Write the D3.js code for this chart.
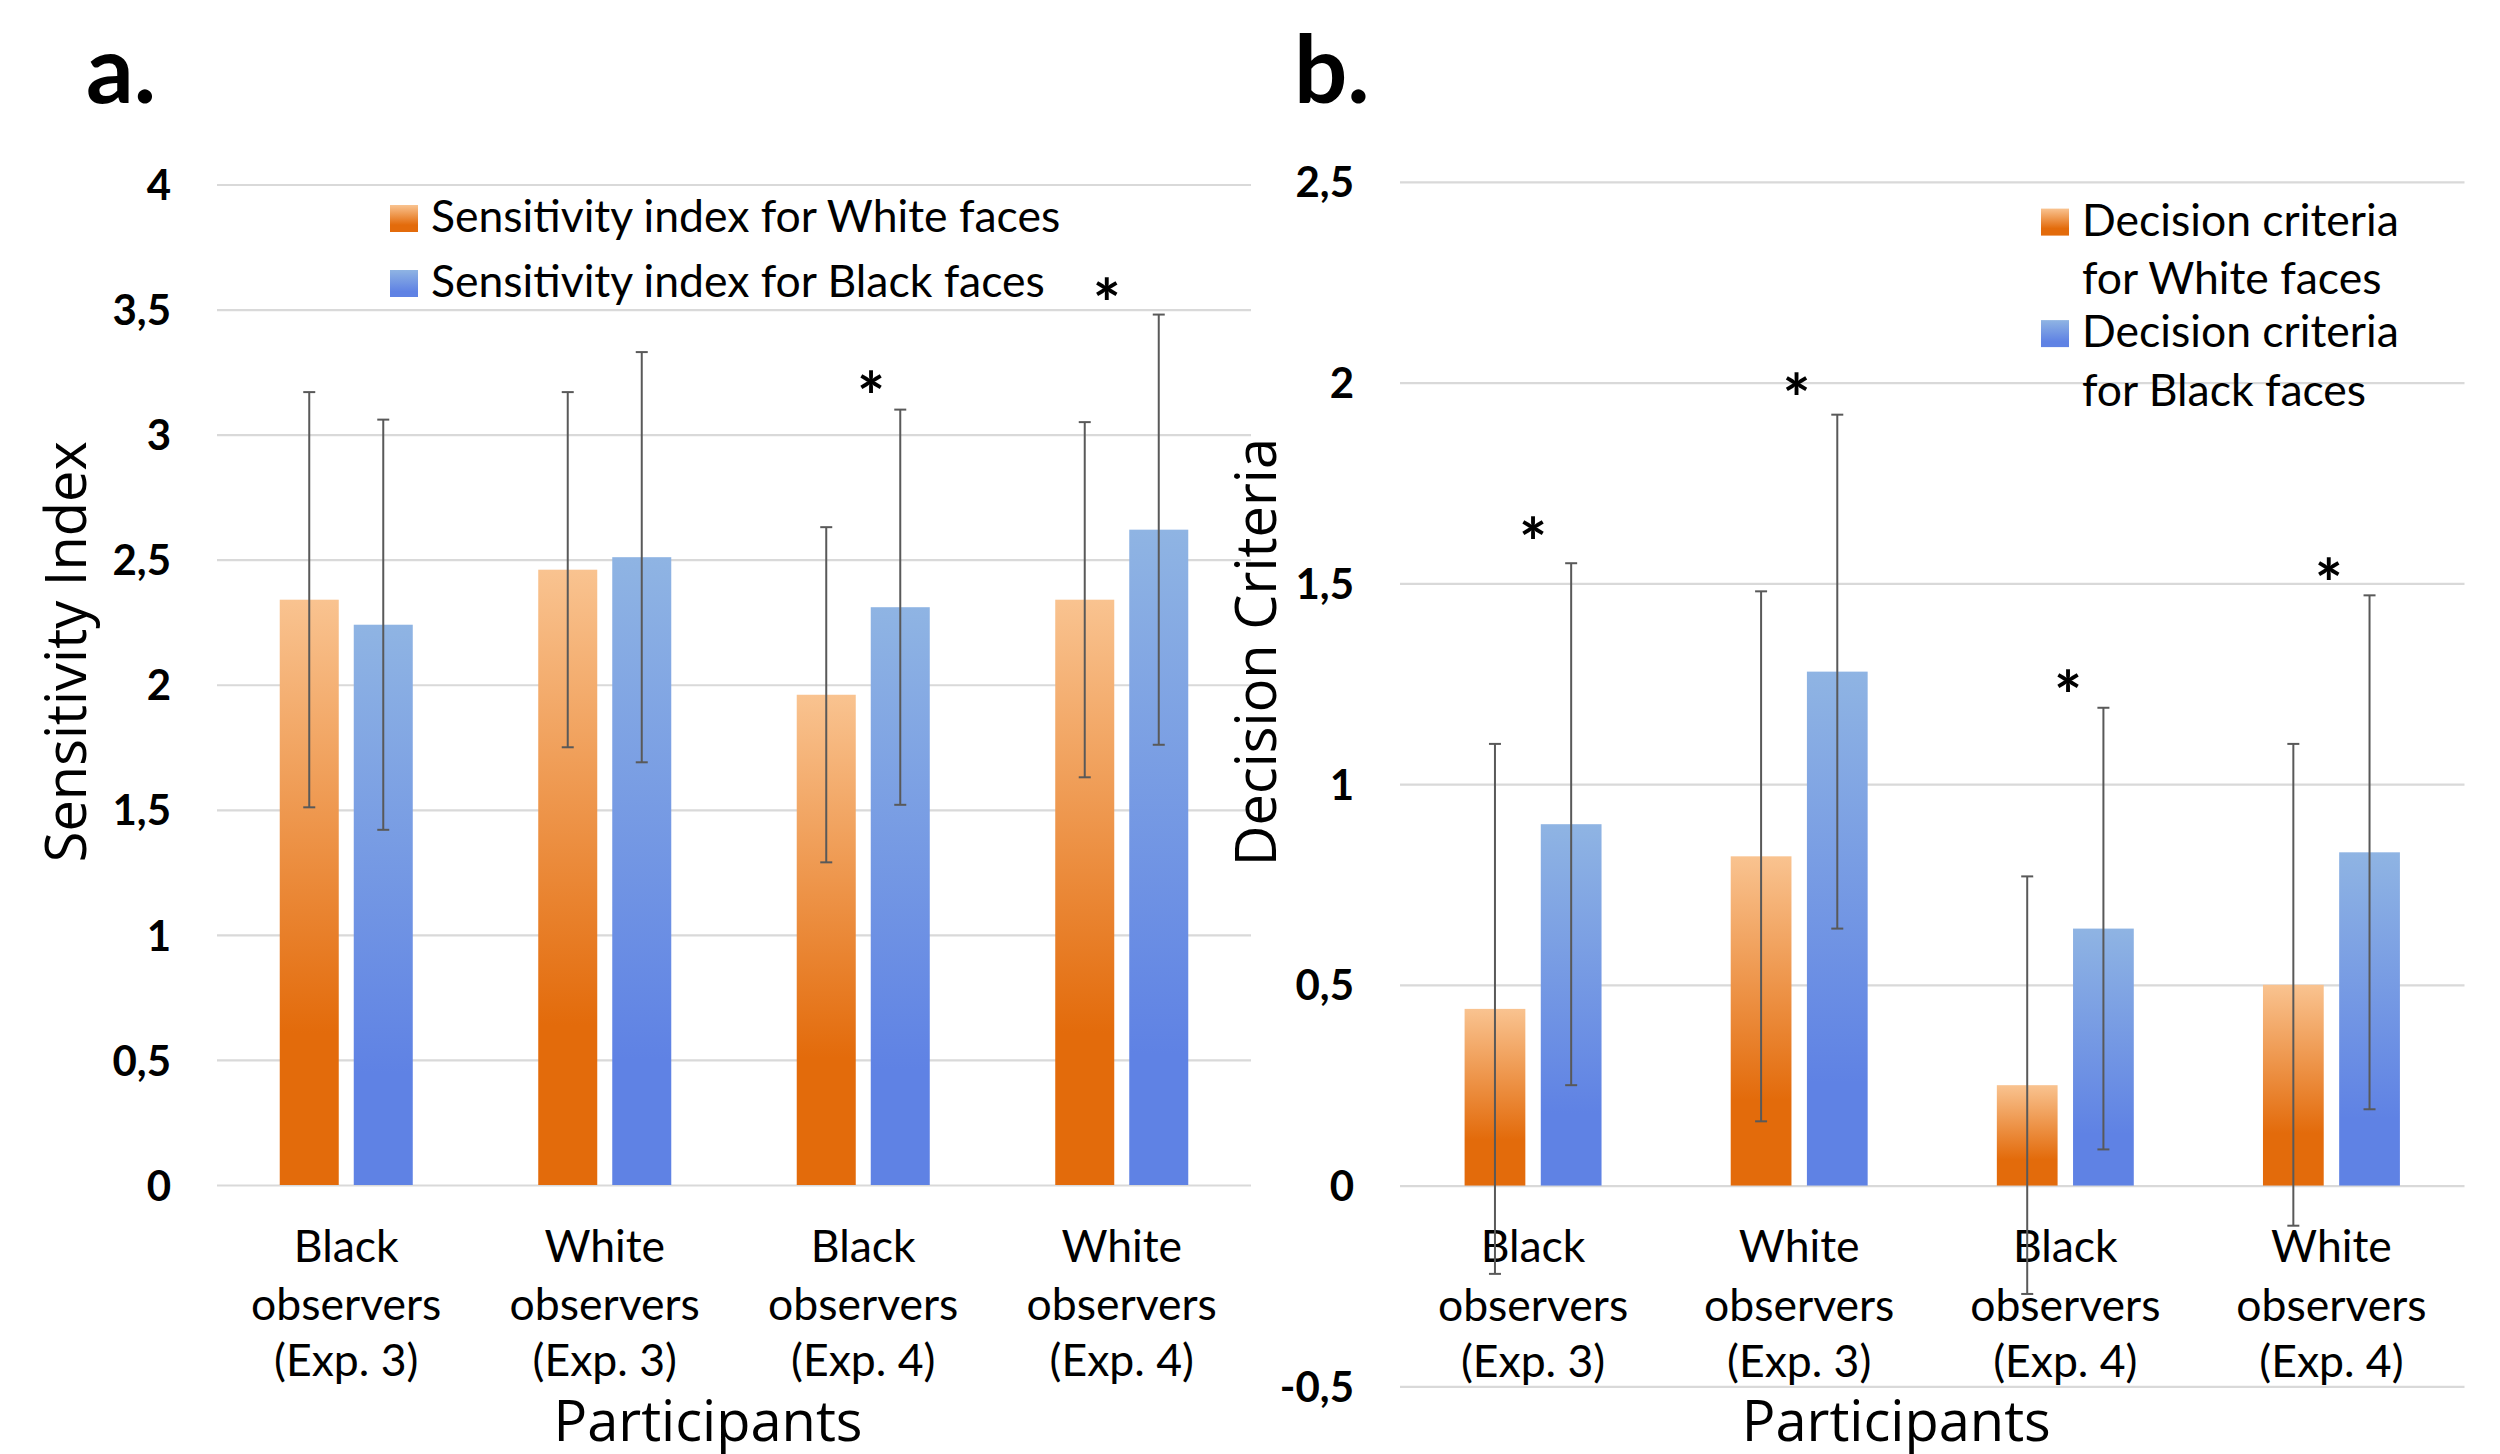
<!DOCTYPE html>
<html>
<head>
<meta charset="utf-8">
<script src="https://cdn.jsdelivr.net/npm/d3@7"></script>
<style>
  html, body { margin: 0; padding: 0; background: #fff; }
  svg { display: block; }
</style>
</head>
<body>
<svg id="chart" width="2500" height="1454"></svg>
<script>
// Categories (x axis, three lines each)
const categoryLines = [
    ["Black", "observers", "(Exp. 3)"],
    ["White", "observers", "(Exp. 3)"],
    ["Black", "observers", "(Exp. 4)"],
    ["White", "observers", "(Exp. 4)"]
];

// Panel a: sensitivity index
const sensSeries = ["Sensitivity index for White faces", "Sensitivity index for Black faces"];
const sensWhite = [2.34, 2.46, 1.96, 2.34];
const sensBlack = [2.24, 2.51, 2.31, 2.62];
const sensWhiteErr = [0.83, 0.71, 0.67, 0.71];
const sensBlackErr = [0.82, 0.82, 0.79, 0.86];
const sensTicks = [0, 0.5, 1, 1.5, 2, 2.5, 3, 3.5, 4];
// significance stars: category index, height (value), horizontal shift (share of band)
const sensStars = [
    { i: 2, v: 3.20, dx: 0.03 },
    { i: 3, v: 3.57, dx: -0.058 }
];

// Panel b: decision criteria
const critSeries = [["Decision criteria", "for White faces"], ["Decision criteria", "for Black faces"]];
const critWhite = [0.44, 0.82, 0.25, 0.50];
const critBlack = [0.90, 1.28, 0.64, 0.83];
const critWhiteErr = [0.66, 0.66, 0.52, 0.60];
const critBlackErr = [0.65, 0.64, 0.55, 0.64];
const critTicks = [-0.5, 0, 0.5, 1, 1.5, 2, 2.5];
const critStars = [
    { i: 0, v: 1.63, dx: 0 },
    { i: 1, v: 1.99, dx: -0.01 },
    { i: 2, v: 1.25, dx: 0.01 },
    { i: 3, v: 1.53, dx: -0.01 }
];

const svg = d3.select("#chart");
svg.append("rect").attr("width", 2500).attr("height", 1454).attr("fill", "#fff");

const calibri = "Lato, 'Liberation Sans', sans-serif";
const segoe = "'Open Sans', 'Noto Sans', sans-serif";

// Gradients like the Excel fill
const defs = svg.append("defs");
function addGradient(id, light, dark, stop) {
    const gr = defs.append("linearGradient").attr("id", id)
        .attr("x1", 0).attr("y1", 0).attr("x2", 0).attr("y2", 1);
    gr.append("stop").attr("offset", 0).attr("stop-color", light);
    gr.append("stop").attr("offset", stop).attr("stop-color", dark);
    gr.append("stop").attr("offset", 1).attr("stop-color", dark);
}
addGradient("gradOrange", "#f9c390", "#e36b0b", 0.74);
addGradient("gradBlue", "#8fb4e3", "#5f82e4", 0.8);
const fills = ["url(#gradOrange)", "url(#gradBlue)"];

const locale = d3.formatLocale({ decimal: ",", thousands: ".", grouping: [3], currency: ["", ""], minus: "-" });
const fmt = locale.format("~f");

function drawPanel(opt) {
    const { left, right, top, bottom, domain, ticks, values, errors, stars } = opt;
    const g = svg.append("g");

    const x0 = d3.scaleBand().domain(d3.range(categoryLines.length)).range([left, right]).paddingInner(0);
    const half = x0.bandwidth() * 0.2573;
    const x1 = d3.scaleBand().domain([0, 1]).range([-half, half]).paddingInner(0.2027);
    const y = d3.scaleLinear().domain(domain).range([bottom, top]);

    // grid + tick labels
    const axis = g.append("g")
        .attr("transform", `translate(${left},0)`)
        .call(d3.axisLeft(y).tickValues(ticks).tickSize(-(right - left)).tickPadding(46).tickFormat(fmt));
    axis.select(".domain").remove();
    axis.selectAll(".tick line").attr("stroke", "#d9d9d9").attr("stroke-width", 2.2);
    axis.selectAll(".tick text")
        .attr("fill", "#000")
        .attr("dy", "0.36em")
        .style("font-family", calibri)
        .style("font-weight", "bold")
        .style("font-size", "42px");

    // bars
    const rows = [];
    values.forEach((vals, s) => vals.forEach((v, i) => rows.push({ s, i, v, e: errors[s][i] })));
    const cx = d => x0(d.i) + x0.bandwidth() / 2 + x1(d.s) + x1.bandwidth() / 2;

    g.selectAll(".bar").data(rows).enter().append("rect")
        .attr("class", "bar")
        .attr("x", d => x0(d.i) + x0.bandwidth() / 2 + x1(d.s))
        .attr("width", x1.bandwidth())
        .attr("y", d => y(Math.max(0, d.v)))
        .attr("height", d => Math.abs(y(d.v) - y(0)))
        .attr("fill", d => fills[d.s]);

    // category labels
    const zero = y(0);
    const lab = g.selectAll(".cat").data(categoryLines).enter().append("text")
        .attr("class", "cat")
        .attr("text-anchor", "middle")
        .style("font-family", calibri)
        .style("font-size", "44.5px")
        .attr("fill", "#000");
    [76.5, 135, 191].forEach((dy, k) => {
        lab.append("tspan")
            .attr("x", (d, i) => x0(i) + x0.bandwidth() / 2)
            .attr("y", zero + dy)
            .text(d => d[k]);
    });

    // error bars
    const eb = g.selectAll(".err").data(rows).enter().append("g").attr("class", "err")
        .attr("stroke", "#595959").attr("stroke-width", 2);
    eb.append("line")
        .attr("x1", cx).attr("x2", cx)
        .attr("y1", d => y(d.v + d.e)).attr("y2", d => y(d.v - d.e));
    [1, -1].forEach(sg => {
        eb.append("line")
            .attr("x1", d => cx(d) - 6).attr("x2", d => cx(d) + 6)
            .attr("y1", d => y(d.v + sg * d.e)).attr("y2", d => y(d.v + sg * d.e));
    });

    // stars
    g.selectAll(".star").data(stars).enter().append("text")
        .attr("class", "star")
        .attr("x", d => x0(d.i) + x0.bandwidth() * (0.5 + d.dx))
        .attr("y", d => y(d.v))
        .attr("dy", "0.55em")
        .attr("text-anchor", "middle")
        .style("font-family", calibri)
        .style("font-weight", "bold")
        .style("font-size", "66px")
        .attr("fill", "#000")
        .text("*");

    // axis titles
    g.append("text")
        .attr("transform", `translate(${opt.yTitleX},${(top + bottom) / 2 + opt.yTitleDy}) rotate(-90)`)
        .attr("text-anchor", "middle")
        .style("font-family", segoe)
        .style("font-size", "56px")
        .attr("fill", "#000")
        .text(opt.yTitle);
    g.append("text")
        .attr("x", (left + right) / 2 + opt.xTitleDx)
        .attr("y", 1441)
        .attr("text-anchor", "middle")
        .style("font-family", segoe)
        .style("font-size", "56px")
        .attr("fill", "#000")
        .text("Participants");

    // panel label
    g.append("text")
        .attr("x", opt.labelX).attr("y", 103)
        .style("font-family", calibri)
        .style("font-weight", "bold")
        .style("font-size", "94px")
        .attr("fill", "#000")
        .text(opt.label);

    // legend
    const leg = g.selectAll(".leg").data(opt.legend).enter().append("g")
        .attr("class", "leg")
        .attr("transform", (d, i) => `translate(${opt.legendX},${opt.legendY + i * opt.legendStep})`);
    leg.append("rect").attr("x", 0).attr("y", 0).attr("width", 28).attr("height", 27)
        .attr("fill", (d, i) => fills[i]);
    const lt = leg.append("text")
        .style("font-family", calibri)
        .style("font-size", "44.5px")
        .attr("fill", "#000");
    lt.selectAll("tspan").data(d => Array.isArray(d) ? d : [d]).enter().append("tspan")
        .attr("x", 41)
        .attr("y", (d, k) => 27 + k * 58.5)
        .text(d => d);
}

drawPanel({
    left: 217, right: 1251, top: 184.5, bottom: 1185,
    domain: [0, 4], ticks: sensTicks,
    values: [sensWhite, sensBlack], errors: [sensWhiteErr, sensBlackErr], stars: sensStars,
    yTitle: "Sensitivity Index", yTitleX: 86, yTitleDy: -33, xTitleDx: -26,
    label: "a.", labelX: 86,
    legend: sensSeries, legendX: 390, legendY: 205, legendStep: 65
});

drawPanel({
    left: 1400, right: 2464.5, top: 181.8, bottom: 1386.3,
    domain: [-0.5, 2.5], ticks: critTicks,
    values: [critWhite, critBlack], errors: [critWhiteErr, critBlackErr], stars: critStars,
    yTitle: "Decision Criteria", yTitleX: 1276, yTitleDy: -132, xTitleDx: -36,
    label: "b.", labelX: 1294,
    legend: critSeries, legendX: 2041, legendY: 208.6, legendStep: 111.5
});
</script>
</body>
</html>
